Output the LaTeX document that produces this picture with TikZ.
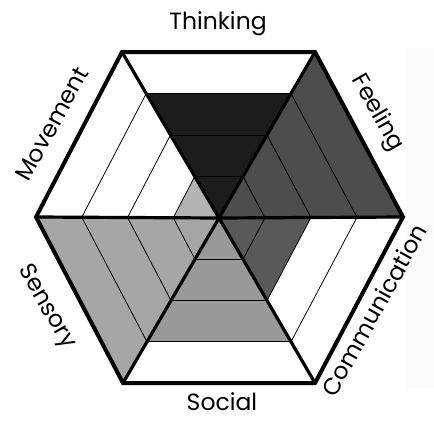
\documentclass[tikz,border=0pt]{standalone}
\usepackage{fontspec}
\setmainfont{Poppins}
\usepackage{xcolor}
\usetikzlibrary{calc}

\definecolor{thinkcol}{HTML}{1C1C1C}
\definecolor{feelcol}{HTML}{4D4D4D}
\definecolor{commcol}{HTML}{595959}
\definecolor{socialcol}{HTML}{999999}
\definecolor{sensecol}{HTML}{A6A6A6}
\definecolor{movecol}{HTML}{B3B3B3}

\begin{document}
\begin{tikzpicture}[x=1pt, y=-1pt,
		band/.style={line width=0.8pt},
		spoke/.style={line width=3.2pt},
		rim/.style={line width=4pt, line join=miter},
		axislabel/.style={font=\fontsize{23.5}{26}\selectfont, inner sep=0pt}]
			\useasboundingbox (0,0) rectangle (434,421);
			\fill[gray!3] (407,48) rectangle (434,388);
			\coordinate (c) at (219,218);
			\coordinate (v1) at (122,52);
			\coordinate (v2) at (315,52);
			\coordinate (v3) at (403,217);
			\coordinate (v4) at (315,383);
			\coordinate (v5) at (123,383);
			\coordinate (v6) at (36,217);
			% scores, 4 bands per sector
			\foreach \a/\b/\lv/\col in {v1/v2/3/thinkcol, v2/v3/4/feelcol, v3/v4/2/commcol,
					v4/v5/3/socialcol, v5/v6/4/sensecol, v6/v1/1/movecol}
				\fill[\col] (c) -- ($(c)!\lv/4!(\a)$) -- ($(c)!\lv/4!(\b)$) -- cycle;
			\foreach \a/\b in {v1/v2, v2/v3, v3/v4, v4/v5, v5/v6, v6/v1}
				\foreach \f in {0.25,0.5,0.75}
					\draw[band] ($(c)!\f!(\a)$) -- ($(c)!\f!(\b)$);
			\foreach \v in {v1,v2,v3,v4,v5,v6}
				\draw[spoke] (c) -- (\v);
			\draw[rim] (v1) -- (v2) -- (v3) -- (v4) -- (v5) -- (v6) -- cycle;
			\node[axislabel, anchor=base] (thinking) at (218,29) {Thinking};
			\node[axislabel, rotate=-60] (feeling) at (377,113) {Feeling};
			\node[axislabel, rotate=61] (communication) at (374,310) {Communication};
			\node[axislabel, anchor=base] (social) at (222,410) {Social};
			\node[axislabel, rotate=-60] (sensory) at (46,307) {Sensory};
			\node[axislabel, rotate=61] (movement) at (52,124) {Movement};
		\end{tikzpicture}
\end{document}
